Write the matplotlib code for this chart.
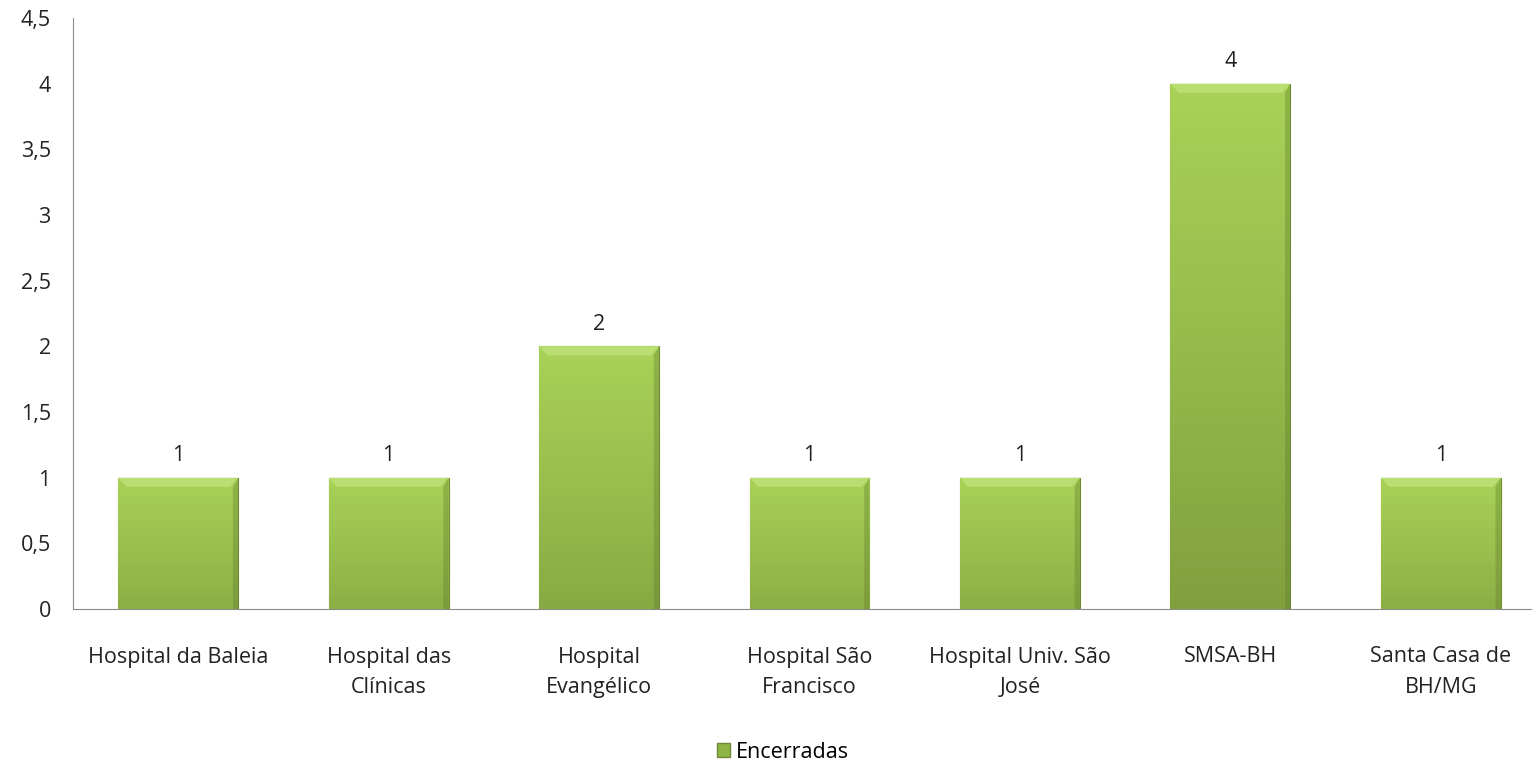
import numpy as np
import matplotlib.pyplot as plt
from matplotlib.colors import LinearSegmentedColormap
from matplotlib.patches import Patch

plt.rcParams['font.family'] = ['Open Sans', 'DejaVu Sans']

categories = ["Hospital da Baleia", "Hospital das\nClínicas", "Hospital\nEvangélico",
              "Hospital São\nFrancisco", "Hospital Univ. São\nJosé", "SMSA-BH",
              "Santa Casa de\nBH/MG"]
encerradas = [1, 1, 2, 1, 1, 4, 1]
yticks = [0, 0.5, 1, 1.5, 2, 2.5, 3, 3.5, 4, 4.5]
ytick_labels = ["0", "0,5", "1", "1,5", "2", "2,5", "3", "3,5", "4", "4,5"]

FS = 15.5

fig = plt.figure(figsize=(15.32, 7.61), dpi=100)
# axis extends a bit past the right edge, as in the original crop
ax = fig.add_axes([73 / 1532, 1 - 609 / 761, 1473 / 1532, (609 - 18) / 761])

x = np.arange(len(categories))
bars = ax.bar(x, encerradas, width=0.57, color="#9bc24e", edgecolor="#6f8c34",
              linewidth=0.8, zorder=2)

# vertical gradient inside each bar, light at top, darker at bottom
cmap = LinearSegmentedColormap.from_list("grn", ["#80a03e", "#96bb4c", "#a8d257"])
grad = np.linspace(0, 1, 256).reshape(-1, 1)
for b, v in zip(bars, encerradas):
    x0, y0 = b.get_x(), b.get_y()
    w, h = b.get_width(), b.get_height()
    lo = 0.35 * (1 - h / 4)  # short bars stay lighter at the bottom
    g = lo + (1 - lo) * grad
    im = ax.imshow(g, cmap=cmap, vmin=0, vmax=1, origin="lower", aspect="auto",
                   extent=[x0, x0 + w, y0, y0 + h], zorder=3)
    im.set_clip_path(b)
    # bevel: light strip on top, darker on right side
    ax.fill([x0, x0 + w, x0 + w - 0.04, x0 + 0.04],
            [h, h, h - 0.07, h - 0.07], color="#bfe27a", alpha=0.8, lw=0, zorder=4)
    ax.fill([x0 + w, x0 + w, x0 + w - 0.025, x0 + w - 0.025],
            [0, h, h - 0.07, 0], color="#5f7a2a", alpha=0.35, lw=0, zorder=4)
    ax.text(x0 + w / 2, h + 0.09, str(v), ha="center", va="bottom",
            fontsize=FS, color="#222222")

ax.set_xlim(-0.5, len(categories) - 0.5)
ax.set_ylim(0, 4.5)
ax.set_yticks(yticks)
ax.set_yticklabels(ytick_labels, fontsize=FS, color="#222222")
ax.set_xticks(x)
ax.set_xticklabels(categories, fontsize=FS, color="#222222", linespacing=1.6)
ax.tick_params(axis="x", length=0, pad=27)
ax.tick_params(axis="y", length=0, pad=16)

for s in ["top", "right"]:
    ax.spines[s].set_visible(False)
ax.spines["left"].set_color("#8c8c8c")
ax.spines["bottom"].set_color("#8c8c8c")

handle = Patch(facecolor="#8fb446", edgecolor="#6f8c34")
fig.legend([handle], ["Encerradas"], loc="center", bbox_to_anchor=(783 / 1532, 1 - 752 / 761),
           frameon=False, fontsize=FS, handlelength=0.6, handleheight=0.6,
           handletextpad=0.3)

fig.savefig("out.png", dpi=100)
